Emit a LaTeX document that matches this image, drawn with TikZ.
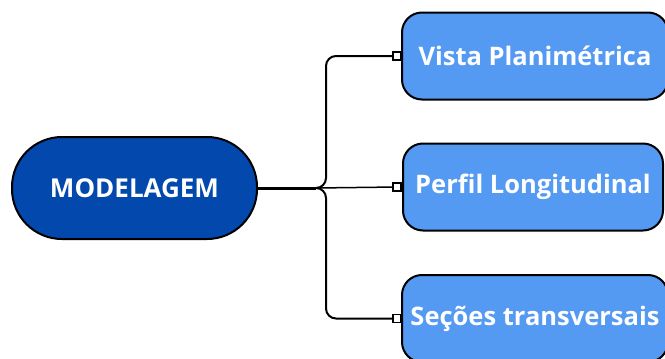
\documentclass[tikz,border=0pt]{standalone}
\usepackage{fontspec}
\setmainfont{Open Sans}
\definecolor{darkb}{RGB}{2,72,173}
\definecolor{lightb}{RGB}{84,153,242}
\begin{document}
\begin{tikzpicture}[x=1pt,y=-1pt,
 mainbox/.style={draw=black,line width=2pt,fill=darkb,rounded corners=50pt,minimum width=245pt,minimum height=102pt,text=white,inner sep=0pt,font=\bfseries\fontsize{26}{30}\selectfont},
 subbox/.style={draw=black,line width=2pt,fill=lightb,rounded corners=20pt,minimum height=87pt,text=white,inner sep=0pt,font=\bfseries\fontsize{25.5}{30}\selectfont},
 marker/.style={draw=black,fill=white,line width=1.5pt,minimum size=8pt,inner sep=0pt},
 conn/.style={line width=2pt,rounded corners=10pt}]
\useasboundingbox (0,0) rectangle (665,359);
\node[mainbox] (M) at (134.5,188) {MODELAGEM};
\node[subbox,minimum width=266pt] (A) at (535,56) {Vista Planimétrica};
\node[subbox,minimum width=260pt] (B) at (533,187) {Perfil Longitudinal};
\node[subbox,minimum width=266pt] (C) at (535,318.5) {Seções transversais};
\coordinate (J) at (316,188);
\coordinate (V) at (326,188);
\draw[line width=3pt] (M.east) -- (J);
\draw[conn] (J) -- (V) -- (V |- A) -- (397,56);
\draw[conn] (J) -- (V) -- (V |- C) -- (397,318.5);
\draw[line width=1.5pt] (J) -- (397,187);
\node[marker] (s1) at (397,56) {};
\node[marker] (s2) at (397,187) {};
\node[marker] (s3) at (397,318.5) {};
\end{tikzpicture}
\end{document}
